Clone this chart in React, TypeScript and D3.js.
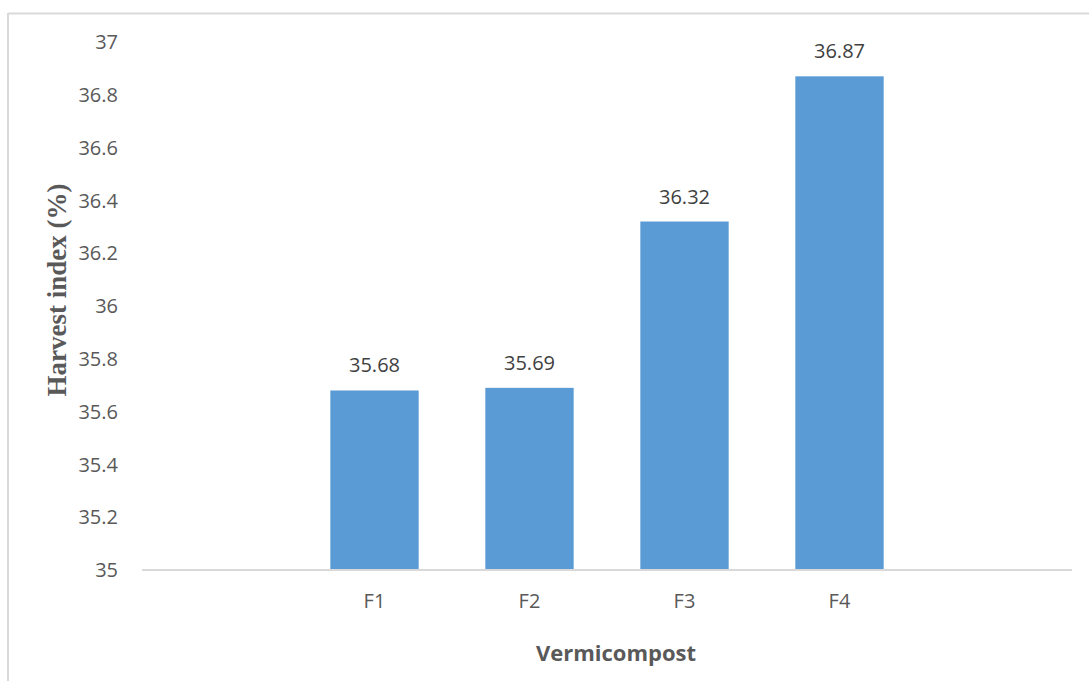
import React from "react";
import * as d3 from "d3";

// Harvest index by vermicompost level
const categories = ["F1", "F2", "F3", "F4"];
const harvestIndex = [35.68, 35.69, 36.32, 36.87];
const yTicks = [35, 35.2, 35.4, 35.6, 35.8, 36, 36.2, 36.4, 36.6, 36.8, 37];

const W = 1089;
const H = 681;
const left = 142;
const right = 1072;
const top = 42;
const bottom = 570;

export default function App() {
  // two empty slots flank the four treatments on the category axis
  const slots = ["_a", ...categories, "_b"];
  const inner = 0.43;
  const x = d3
    .scaleBand<string>()
    .domain(slots)
    .range([left, right])
    .paddingInner(inner)
    .paddingOuter(inner / 2);
  const y = d3.scaleLinear().domain([35, 37]).range([bottom, top]);

  const sans = "'Open Sans', 'Noto Sans', sans-serif";

  return (
    <svg
      width={W}
      height={H}
      style={{ position: "absolute", left: 0, top: 0, background: "#fff" }}
    >
      {/* chart area border (clipped by the frame on the right/bottom) */}
      <line x1={8} y1={13.5} x2={W} y2={13.5} stroke="#d9d9d9" strokeWidth={2} />
      <line x1={8} y1={13} x2={8} y2={H} stroke="#d9d9d9" strokeWidth={2} />

      {/* y tick labels */}
      {yTicks.map((t) => (
        <text
          key={t}
          x={118}
          y={y(t)}
          dy="0.36em"
          textAnchor="end"
          fontFamily={sans}
          fontSize={20}
          fill="#595959"
        >
          {String(+t.toFixed(1))}
        </text>
      ))}

      {/* bars */}
      {categories.map((c, i) => (
        <rect
          key={c}
          x={x(c)!}
          y={y(harvestIndex[i])}
          width={x.bandwidth()}
          height={y(35) - y(harvestIndex[i])}
          fill="#5b9bd5"
        />
      ))}

      {/* category axis line */}
      <line x1={left} y1={bottom} x2={right} y2={bottom} stroke="#d9d9d9" strokeWidth={2} />

      {/* value labels */}
      {categories.map((c, i) => (
        <text
          key={c}
          x={x(c)! + x.bandwidth() / 2}
          y={y(harvestIndex[i]) - 18}
          textAnchor="middle"
          fontFamily={sans}
          fontSize={20}
          fill="#404040"
        >
          {harvestIndex[i].toFixed(2)}
        </text>
      ))}

      {/* category labels */}
      {categories.map((c) => (
        <text
          key={c}
          x={x(c)! + x.bandwidth() / 2}
          y={608}
          textAnchor="middle"
          fontFamily={sans}
          fontSize={20}
          fill="#595959"
        >
          {c}
        </text>
      ))}

      {/* axis titles */}
      <text
        x={616}
        y={661}
        textAnchor="middle"
        fontFamily={sans}
        fontSize={22}
        fontWeight="bold"
        fill="#595959"
      >
        Vermicompost
      </text>
      <text
        transform={`translate(66, 290) rotate(-90)`}
        textAnchor="middle"
        fontFamily="'Liberation Serif', 'Times New Roman', serif"
        fontSize={27}
        fontWeight="bold"
        fill="#595959"
      >
        Harvest index (%)
      </text>
    </svg>
  );
}
